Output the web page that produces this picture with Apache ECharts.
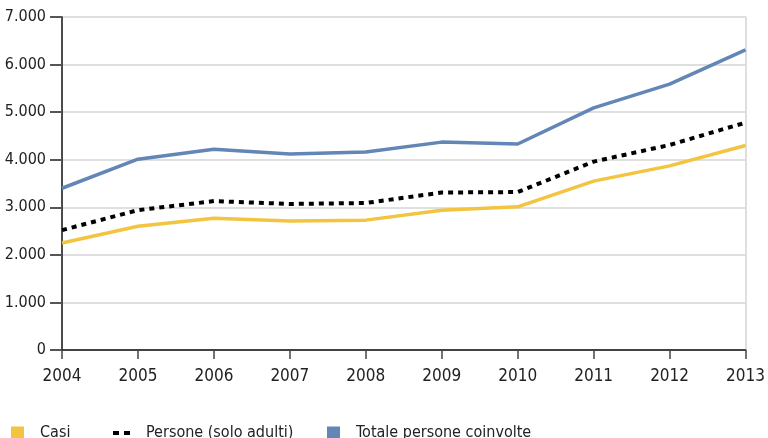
<!DOCTYPE html>
<html>
<head>
    <meta charset="utf-8" />
    <title>Casi e persone coinvolte</title>
    <script src="https://cdn.jsdelivr.net/npm/echarts@6/dist/echarts.min.js"></script>
    <style>
        body { margin: 0; background: #fff; }
        #main { width: 768px; height: 438px; }
    </style>
</head>
<body>
    <div id="main"></div>
    <script type="text/javascript">
        // dati
        var anni = ['2004','2005','2006','2007','2008','2009','2010','2011','2012','2013'];
        var casi = [2250, 2600, 2770, 2710, 2730, 2940, 3010, 3550, 3870, 4300];
        var persone = [2520, 2940, 3130, 3070, 3090, 3310, 3320, 3960, 4310, 4780];
        var totale = [3400, 4010, 4220, 4120, 4160, 4370, 4330, 5090, 5590, 6310];

        var font = '"DejaVu Sans Condensed", "Liberation Sans Narrow", sans-serif';
        var myChart = echarts.init(document.getElementById('main'));

        function fmt(v) {
            return v === 0 ? '0' : String(v).replace(/\B(?=(\d{3})+(?!\d))/g, '.');
        }

        var legendBase = {
            top: 420,
            itemWidth: 13,
            itemHeight: 13,
            itemGap: 10,
            textStyle: { fontFamily: font, fontSize: 16, color: '#222', padding: [0, 0, 0, 11] }
        };

        myChart.setOption({
            animation: false,
            grid: { left: 62, right: 19, top: 17, bottom: 88 },
            legend: [
                Object.assign({}, legendBase, { left: 6, data: [{ name: 'Casi', icon: 'rect' }] }),
                Object.assign({}, legendBase, {
                    left: 108, itemWidth: 17, itemHeight: 4,
                    data: [{ name: 'Persone (solo adulti)', icon: 'path://M0,0H6V4H0Z M11,0H17V4H11Z' }]
                }),
                Object.assign({}, legendBase, { left: 322, data: [{ name: 'Totale persone coinvolte', icon: 'rect' }] })
            ],
            xAxis: {
                type: 'category',
                boundaryGap: false,
                data: anni,
                axisLine: { lineStyle: { color: '#111', width: 1.5 } },
                axisTick: { length: 9, lineStyle: { color: '#444', width: 1.5 } },
                axisLabel: { fontFamily: font, fontSize: 17, color: '#222', margin: 18 }
            },
            yAxis: [{
                type: 'value',
                min: 0,
                max: 7000,
                interval: 1000,
                axisLine: { show: true, lineStyle: { color: '#111', width: 1.5 } },
                axisTick: { show: true, length: 12, lineStyle: { color: '#555', width: 2 } },
                axisLabel: { fontFamily: font, fontSize: 16, color: '#222', margin: 16, formatter: fmt },
                splitLine: { lineStyle: { color: '#d4d4d4', width: 1.5 } }
            }, {
                type: 'value',
                position: 'right',
                min: 0,
                max: 7000,
                interval: 1000,
                axisLine: { show: true, lineStyle: { color: '#d4d4d4', width: 1.5 } },
                axisTick: { show: false },
                axisLabel: { show: false },
                splitLine: { show: false }
            }],
            series: [
                {
                    name: 'Casi',
                    type: 'line',
                    data: casi,
                    symbol: 'none',
                    itemStyle: { color: '#f3c43f' },
                    lineStyle: { color: '#f3c43f', width: 3.5 }
                },
                {
                    name: 'Persone (solo adulti)',
                    type: 'line',
                    data: persone,
                    symbol: 'none',
                    itemStyle: { color: '#000' },
                    lineStyle: { color: '#000', width: 4, type: [5, 5] }
                },
                {
                    name: 'Totale persone coinvolte',
                    type: 'line',
                    data: totale,
                    symbol: 'none',
                    itemStyle: { color: '#6286b6' },
                    lineStyle: { color: '#6286b6', width: 3.5 }
                }
            ]
        });
    </script>
</body>
</html>
